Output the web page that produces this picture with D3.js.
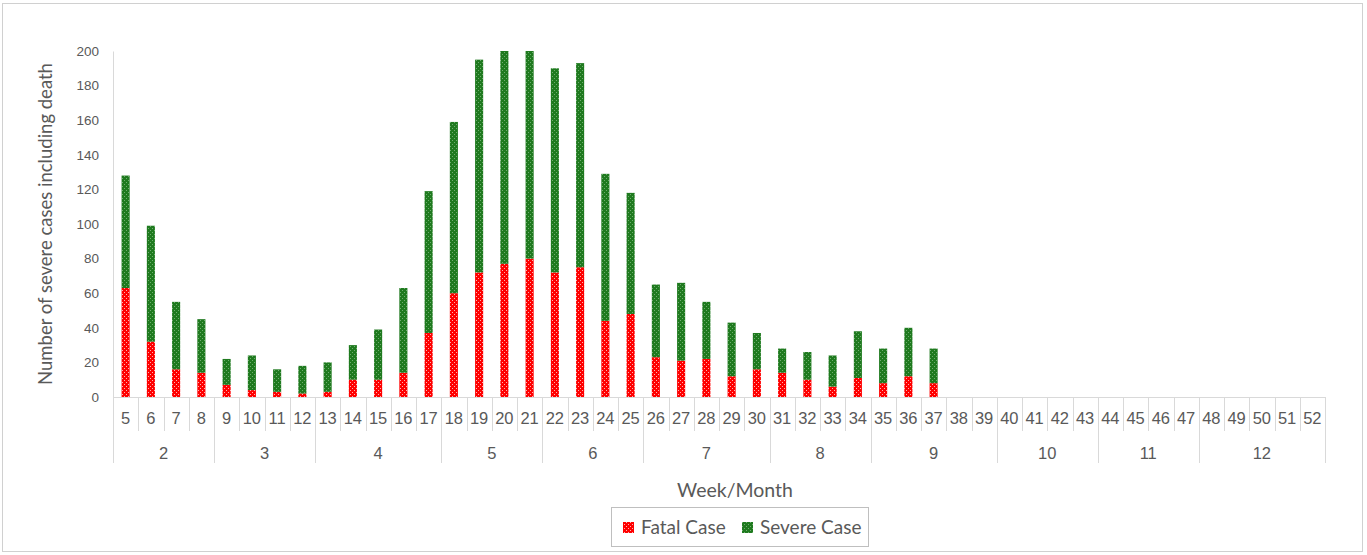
<!DOCTYPE html>
<html><head><meta charset="utf-8">
<script src="https://cdn.jsdelivr.net/npm/d3@7"></script>
<style>body{margin:0;background:#fff}svg{display:block}</style>
</head><body><svg id="c" width="1367" height="555"></svg>
<script>
const weeks = d3.range(5, 53).map(String);
const fatal  = [63,32,16,14,7,4,3,2,3,10,10,14,37,60,72,77,80,72,75,44,48,23,21,22,12,16,14,10,6,11,8,12,8, 0,0,0,0,0,0,0,0,0,0,0,0,0,0,0];
const severe = [65,67,39,31,15,20,13,16,17,20,29,49,82,99,123,123,120,118,118,85,70,42,45,33,31,21,14,16,18,27,20,28,20, 0,0,0,0,0,0,0,0,0,0,0,0,0,0,0];
const months = ["2","3","4","5","6","7","8","9","10","11","12"];
const weeksPerMonth = [4,4,5,4,4,5,4,5,4,4,5];
const yTicks = [0,20,40,60,80,100,120,140,160,180,200];
const seriesNames = ["Fatal Case","Severe Case"];

const svg = d3.select("#c");
const defs = svg.append("defs");
function pat(id, bg, fg){
  const p = defs.append("pattern").attr("id", id).attr("patternUnits","userSpaceOnUse").attr("width",4).attr("height",4);
  p.append("rect").attr("width",4).attr("height",4).attr("fill",bg);
  p.append("rect").attr("x",0).attr("y",0).attr("width",1).attr("height",1).attr("fill",fg);
  p.append("rect").attr("x",2).attr("y",2).attr("width",1).attr("height",1).attr("fill",fg);
}
pat("pRed", "#ff0000", "#ffb0b0");
pat("pGreen", "#1f7a1f", "#6fae6f");
const fills = ["url(#pRed)","url(#pGreen)"];

svg.append("rect").attr("x",2.5).attr("y",3.5).attr("width",1360).attr("height",548)
  .attr("fill","none").attr("stroke","#d0d0d0");

const x0 = 113, x1 = 1325, yBase = 397, yTop = 51;
const x = d3.scaleBand().domain(weeks).range([x0, x1]).paddingInner(0.68).paddingOuter(0.34);
const y = d3.scaleLinear().domain([0,200]).range([yBase, yTop]);

const data = weeks.map((w,i)=>({week:w, "Fatal Case":fatal[i], "Severe Case":severe[i]}));
const stack = d3.stack().keys(seriesNames)(data);

const gBars = svg.append("g");
stack.forEach((s,si)=>{
  gBars.selectAll(null).data(s).enter().append("rect")
    .attr("x", d=>x(d.data.week))
    .attr("width", x.bandwidth())
    .attr("y", d=>y(d[1]))
    .attr("height", d=>Math.max(0, y(d[0]) - y(d[1])))
    .attr("fill", fills[si]);
});

const tickFont = "'Liberation Sans', Arial, sans-serif";
const titleFont = "Lato, 'Open Sans', sans-serif";

// y axis
const yAxis = d3.axisLeft(y).tickValues(yTicks).tickSize(0).tickPadding(14);
const gy = svg.append("g").attr("transform",`translate(${x0},0)`).call(yAxis);
gy.select(".domain").attr("stroke","#d9d9d9");
gy.selectAll("text").attr("fill","#595959").style("font-family",tickFont).style("font-size","13.5px");

// x axis with week labels and month groups
const step = x.step();
const gx = svg.append("g");
gx.append("line").attr("x1",x0).attr("x2",x1).attr("y1",yBase+0.5).attr("y2",yBase+0.5).attr("stroke","#d9d9d9");
weeks.forEach((w,i)=>{
  const lx = Math.round(x0 + i*step) + 0.5;
  gx.append("line").attr("x1",lx).attr("x2",lx).attr("y1",yBase).attr("y2",yBase+34).attr("stroke","#d9d9d9");
  gx.append("text").attr("x", x(w)+x.bandwidth()/2).attr("y", yBase+27)
    .attr("text-anchor","middle").attr("fill","#595959")
    .style("font-family",tickFont).style("font-size","16.5px").text(w);
});
let acc = 0;
months.forEach((m,i)=>{
  const sx = x0 + acc*step;
  const ex = x0 + (acc+weeksPerMonth[i])*step;
  const lx = Math.round(sx)+0.5;
  gx.append("line").attr("x1",lx).attr("x2",lx).attr("y1",yBase).attr("y2",yBase+66).attr("stroke","#d9d9d9");
  gx.append("text").attr("x",(sx+ex)/2).attr("y",yBase+62).attr("text-anchor","middle").attr("fill","#595959")
    .style("font-family",tickFont).style("font-size","16.5px").text(m);
  acc += weeksPerMonth[i];
});
gx.append("line").attr("x1",x1+0.5).attr("x2",x1+0.5).attr("y1",yBase).attr("y2",yBase+66).attr("stroke","#d9d9d9");

// titles
svg.append("text").attr("transform",`translate(52,${(yTop+yBase)/2}) rotate(-90)`)
  .attr("text-anchor","middle").attr("fill","#595959")
  .style("font-family",titleFont).style("font-size","18.5px")
  .text("Number of severe cases including death");
svg.append("text").attr("x",735).attr("y",497).attr("text-anchor","middle").attr("fill","#595959")
  .style("font-family",titleFont).style("font-size","19.5px").text("Week/Month");

// legend
const lg = svg.append("g");
lg.append("rect").attr("x",611.5).attr("y",507.5).attr("width",257).attr("height",39).attr("fill","#fff").attr("stroke","#bfbfbf");
const legX = [623, 742];
seriesNames.forEach((n,i)=>{
  lg.append("rect").attr("x",legX[i]).attr("y",522).attr("width",11).attr("height",11).attr("fill",fills[i]);
  lg.append("text").attr("x",legX[i]+18).attr("y",534).attr("fill","#595959")
    .style("font-family",titleFont).style("font-size","19px").text(n);
});
</script></body></html>
